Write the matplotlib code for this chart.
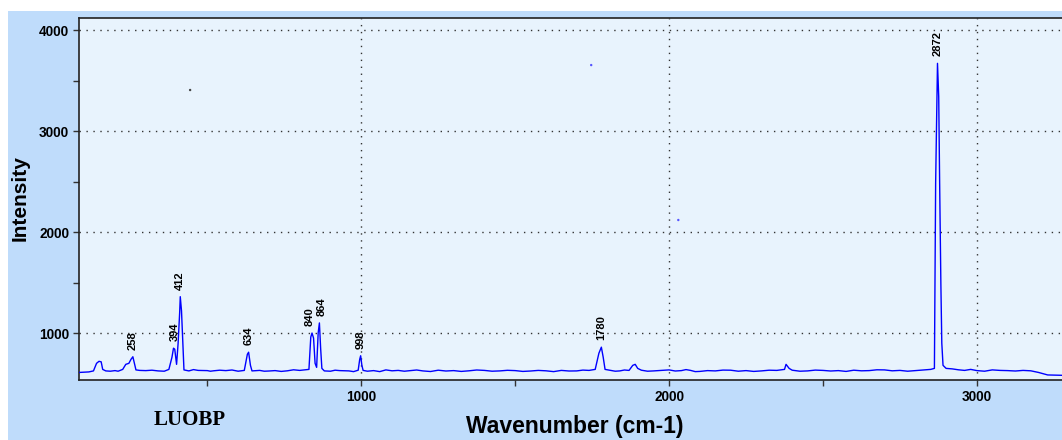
import matplotlib
matplotlib.use("Agg")
import matplotlib.pyplot as plt
from matplotlib.patches import Rectangle
from matplotlib.ticker import FixedLocator

# ---- data ----
wavenumber = [85, 100, 115, 130, 140, 148, 155, 160, 170, 185, 200, 210, 225, 235, 245, 252, 258, 263, 268,
              280, 300, 320, 340, 360, 375, 385, 390, 394, 400, 405, 410, 412, 416, 420, 424, 440, 455, 470,
              500, 510, 520, 540, 560, 580, 600, 620, 630, 634, 640, 645, 670, 685, 700, 720, 740, 760, 780,
              800, 830, 836, 840, 845, 850, 855, 860, 864, 868, 872, 880, 900, 915, 930, 960, 975, 990, 995,
              998, 1002, 1006, 1020, 1040, 1060, 1080, 1100, 1120, 1140, 1160, 1180, 1200, 1225, 1250, 1275,
              1300, 1325, 1350, 1375, 1400, 1425, 1450, 1475, 1500, 1525, 1550, 1575, 1600, 1625, 1650, 1675,
              1700, 1720, 1740, 1760, 1772, 1780, 1786, 1792, 1810, 1825, 1840, 1855, 1870, 1882, 1890, 1898,
              1910, 1930, 1950, 1975, 2000, 2020, 2040, 2055, 2070, 2085, 2100, 2125, 2150, 2175, 2200, 2225,
              2250, 2275, 2300, 2325, 2350, 2375, 2380, 2390, 2400, 2425, 2450, 2475, 2500, 2525, 2550, 2575,
              2600, 2625, 2650, 2675, 2700, 2725, 2750, 2775, 2800, 2825, 2850, 2862, 2866, 2872, 2876, 2879,
              2883, 2886, 2890, 2900, 2920, 2940, 2960, 2980, 3000, 3025, 3050, 3075, 3100, 3125, 3150, 3175,
              3200, 3215, 3230, 3296]
intensity = [610, 612, 615, 625, 700, 720, 715, 640, 625, 622, 628, 622, 640, 690, 700, 740, 765, 700, 635,
             630, 628, 632, 625, 622, 640, 760, 850, 840, 690, 900, 1200, 1360, 1220, 940, 635, 625, 638, 630,
             628, 622, 626, 632, 628, 634, 622, 630, 790, 810, 680, 625, 630, 622, 624, 628, 620, 626, 636,
             630, 640, 960, 1000, 950, 700, 660, 1000, 1100, 850, 650, 625, 622, 632, 628, 625, 618, 632, 740,
             775, 680, 630, 622, 628, 618, 635, 626, 630, 622, 628, 634, 625, 619, 632, 624,
             628, 620, 626, 634, 630, 622, 625, 631, 628, 620, 624, 630, 626, 618, 630, 624,
             625, 633, 630, 640, 800, 860, 760, 640, 630, 622, 625, 634, 630, 680, 690, 650,
             632, 622, 625, 630, 635, 624, 628, 638, 630, 618, 620, 628, 625, 633, 632, 622,
             628, 620, 625, 632, 630, 640, 690, 650, 632, 622, 625, 633, 630, 624, 628, 620,
             632, 626, 628, 636, 635, 626, 630, 622, 628, 634, 640, 650, 2485, 3670, 3340, 2485,
             1485, 900, 680, 650, 645, 636, 630, 640, 628, 622, 635, 630, 628, 624, 630, 626,
             610, 598, 585, 580]

peak_labels = ["258", "394", "412", "634", "840", "864", "998", "1780", "2872"]
peak_x = [258, 394, 412, 634, 840, 864, 998, 1780, 2872]
peak_y = [765, 850, 1360, 810, 1000, 1100, 775, 860, 3670]
label_dx = [0, 0, 0, 0, -1.5, 1.5, 0, 0, 0]

stray_x = [444, 1747, 2030]
stray_y = [3406, 3653, 2119]
stray_colors = ["#444444", "#5555ff", "#5555ff"]

x_major = [1000, 2000, 3000]
x_minor = [500, 1500, 2500]
y_major = [1000, 2000, 3000, 4000]
y_minor = [1500, 2500, 3500]

# ---- figure ----
W, H = 1062, 440
fig = plt.figure(figsize=(W / 100, H / 100), dpi=100)
fig.patch.set_facecolor("white")
fig.patches.append(Rectangle((8 / W, 0), 1, 1 - 11 / H, transform=fig.transFigure,
                             facecolor="#BFDCFB", edgecolor="none", zorder=-10))

left, right, top, bottom = 79, 1068, 18, 380
ax = fig.add_axes([left / W, 1 - bottom / H, (right - left) / W, (bottom - top) / H])
ax.set_zorder(1)
ax.set_facecolor("#E8F3FD")

ax.plot(wavenumber, intensity, color="#0000FF", lw=1.0, zorder=3)
ax.scatter(stray_x, stray_y, s=3, c=stray_colors, zorder=3, linewidths=0)

for lab, px, py, dx in zip(peak_labels, peak_x, peak_y, label_dx):
    ax.annotate(lab, (px, py), xytext=(dx, 5), textcoords="offset points",
                rotation=90, ha="center", va="bottom", fontsize=8, fontweight="bold",
                family="Liberation Sans", color="black", zorder=4)

ax.set_xlim(83, 3296)
ax.set_ylim(535, 4119)

ax.xaxis.set_major_locator(FixedLocator(x_major))
ax.xaxis.set_minor_locator(FixedLocator(x_minor))
ax.yaxis.set_major_locator(FixedLocator(y_major))
ax.yaxis.set_minor_locator(FixedLocator(y_minor))
ax.tick_params(which="both", direction="out", length=4, width=1, color="#333333")
ax.tick_params(axis="both", which="major", labelsize=9.8, pad=3)
for t in ax.get_xticklabels() + ax.get_yticklabels():
    t.set_fontweight("bold")
    t.set_family("Liberation Sans")

ax.grid(True, which="major", color="#333333", linestyle=(0, (1, 4)), lw=1)
for s in ["left", "top", "bottom"]:
    ax.spines[s].set_color("#222222")
    ax.spines[s].set_linewidth(1.2)
ax.spines["right"].set_visible(False)

fig.text(20 / W, 1 - 198 / H, "Intensity", rotation=90, ha="center", va="center",
         fontsize=15, fontweight="bold", family="Liberation Sans")
fig.text(575 / W, 1 - 426 / H, "Wavenumber (cm-1)", ha="center", va="center",
         fontsize=16.5, fontweight="bold", family="Liberation Sans")
fig.text(190 / W, 1 - 420 / H, "LUOBP", ha="center", va="center",
         fontsize=15, fontweight="bold", family="Liberation Serif")

fig.savefig("out.png", dpi=100)
